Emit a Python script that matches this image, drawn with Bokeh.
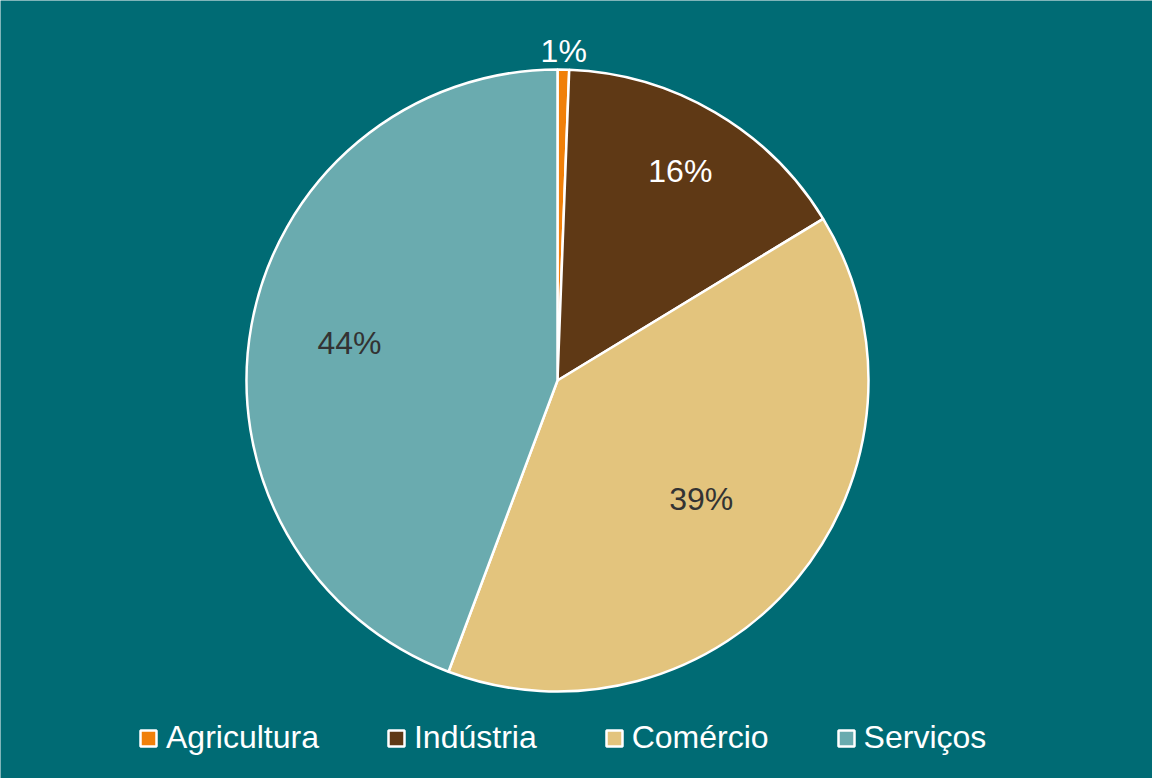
import math
from bokeh.plotting import figure
from bokeh.models import Range1d, ColumnDataSource, Legend, LegendItem
from bokeh.embed import file_html
from bokeh.resources import INLINE

categories = ["Agricultura", "Indústria", "Comércio", "Serviços"]
values = [0.6, 15.7, 39.4, 44.3]
colors = ["#F0800A", "#5F3915", "#E3C47D", "#6AABAF"]
label_colors = ["#FFFFFF", "#FFFFFF", "#333333", "#333333"]
label_radius = [1.06, 0.78, 0.60, 0.68]

BG = "#006B74"
W, H = 1152, 778
cx, cy, R = 557, 398, 311

total = sum(values)
starts, ends, lx, ly, labels = [], [], [], [], []
cum = 0.0
for v, lr in zip(values, label_radius):
    a0 = math.pi / 2 - 2 * math.pi * cum / total
    cum += v
    a1 = math.pi / 2 - 2 * math.pi * cum / total
    starts.append(a0)
    ends.append(a1)
    mid = (a0 + a1) / 2
    lx.append(cx + lr * R * math.cos(mid))
    ly.append(cy + lr * R * math.sin(mid))
    labels.append(f"{round(v)}%")

p = figure(width=W, height=H, x_range=Range1d(0, W), y_range=Range1d(0, H),
           output_backend="svg", toolbar_location=None, min_border=0)
p.axis.visible = False
p.grid.visible = False
p.outline_line_color = None
p.background_fill_color = BG
p.border_fill_color = BG

items = []
for i, cat in enumerate(categories):
    r = p.wedge(x=cx, y=cy, radius=R, start_angle=starts[i], end_angle=ends[i],
                direction="clock", fill_color=colors[i], line_color="white", line_width=2.5)
    items.append(LegendItem(label=cat, renderers=[r]))

src = ColumnDataSource(dict(x=lx, y=ly, text=labels, color=label_colors))
p.text(x="x", y="y", text="text", source=src, text_color="color",
       text_align="center", text_baseline="middle", text_font_size="32px",
       text_font={"value": "Liberation Sans"})

legend = Legend(items=items, orientation="horizontal", location=(138, 22),
                label_text_color="white", label_text_font="Liberation Sans",
                label_text_font_size="32px", glyph_width=20, glyph_height=20,
                label_standoff=8, spacing=67, padding=0, margin=0,
                background_fill_alpha=0, border_line_color=None)
p.add_layout(legend)

html = file_html(p, INLINE)
html = html.replace("<body>", f'<body style="background-color:{BG};">', 1)
open("out.html", "w").write(html)
